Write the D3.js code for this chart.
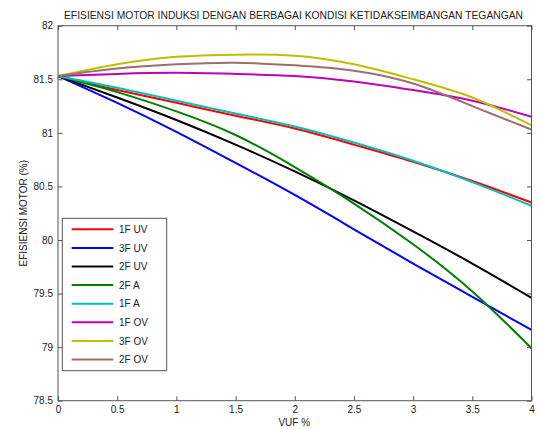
<!DOCTYPE html>
<html>
<head>
<meta charset="utf-8">
<script src="https://cdn.jsdelivr.net/npm/d3@7"></script>
<style>
  html, body { margin: 0; padding: 0; background: #fff; }
  svg { display: block; }
  text { font-family: Arial, "Liberation Sans", sans-serif; fill: #222; }
</style>
</head>
<body>
<svg id="chart" width="541" height="429"></svg>
<script>
// ---- data ----
const vuf = [0, 0.5, 1, 1.5, 2, 2.5, 3, 3.5, 4];
const seriesNames = ["1F UV", "3F UV", "2F UV", "2F A", "1F A", "1F OV", "3F OV", "2F OV"];
const uv1F = [81.53, 81.40, 81.28, 81.16, 81.04, 80.89, 80.73, 80.55, 80.35];
const uv3F = [81.53, 81.28, 81.01, 80.72, 80.42, 80.10, 79.78, 79.47, 79.16];
const uv2F = [81.53, 81.33, 81.12, 80.89, 80.64, 80.37, 80.08, 79.78, 79.46];
const a2F  = [81.53, 81.38, 81.20, 80.98, 80.68, 80.34, 79.96, 79.52, 78.99];
const a1F  = [81.53, 81.42, 81.30, 81.18, 81.06, 80.91, 80.74, 80.54, 80.32];
const ov1F = [81.53, 81.55, 81.56, 81.55, 81.53, 81.48, 81.40, 81.30, 81.15];
const ov3F = [81.53, 81.64, 81.71, 81.73, 81.72, 81.64, 81.50, 81.33, 81.07];
const ov2F = [81.53, 81.60, 81.64, 81.655, 81.63, 81.58, 81.46, 81.25, 81.03];
const seriesValues = [uv1F, uv3F, uv2F, a2F, a1F, ov1F, ov3F, ov2F];
const seriesColors = ["#ff0000", "#0000ff", "#000000", "#008000", "#00bfbf", "#bf00bf", "#bfbf00", "#9e6e6a"];
const xTicks = [0, 0.5, 1, 1.5, 2, 2.5, 3, 3.5, 4];
const yTicks = [78.5, 79, 79.5, 80, 80.5, 81, 81.5, 82];
const titleText = "EFISIENSI MOTOR INDUKSI DENGAN BERBAGAI KONDISI KETIDAKSEIMBANGAN TEGANGAN";
const xLabel = "VUF %";
const yLabel = "EFISIENSI MOTOR (%)";

// ---- layout ----
const L = 58, R = 531.5, T = 25.7, B = 400.7;
const svg = d3.select("#chart");
const x = d3.scaleLinear().domain([0, 4]).range([L, R]);
const y = d3.scaleLinear().domain([78.5, 82]).range([B, T]);
const axisColor = "#555";
const tickLen = 4.5;
const fs = "10px";

// curves
const line = d3.line().x(d => x(d[0])).y(d => y(d[1])).curve(d3.curveNatural);
seriesValues.forEach((vals, i) => {
  svg.append("path")
    .datum(vuf.map((v, j) => [v, vals[j]]))
    .attr("d", line)
    .attr("fill", "none")
    .attr("stroke", seriesColors[i])
    .attr("stroke-width", 2);
});

// axes
function styleAxis(g) {
  g.select(".domain").remove();
  g.selectAll(".tick line").attr("stroke", axisColor).attr("stroke-width", 1);
  g.selectAll(".tick text").style("font-size", fs).attr("fill", "#222");
}
const gx = svg.append("g").attr("transform", `translate(0,${B})`)
  .call(d3.axisBottom(x).tickValues(xTicks).tickFormat(d3.format("")).tickSizeInner(-tickLen).tickSizeOuter(0).tickPadding(5));
styleAxis(gx);
const gxt = svg.append("g").attr("transform", `translate(0,${T})`)
  .call(d3.axisTop(x).tickValues(xTicks).tickFormat("").tickSizeInner(-tickLen).tickSizeOuter(0));
styleAxis(gxt);
const gy = svg.append("g").attr("transform", `translate(${L},0)`)
  .call(d3.axisLeft(y).tickValues(yTicks).tickFormat(d3.format("")).tickSizeInner(-tickLen).tickSizeOuter(0).tickPadding(5));
styleAxis(gy);
const gyr = svg.append("g").attr("transform", `translate(${R},0)`)
  .call(d3.axisRight(y).tickValues(yTicks).tickFormat("").tickSizeInner(-tickLen).tickSizeOuter(0));
styleAxis(gyr);

svg.append("rect").attr("x", L).attr("y", T).attr("width", R - L).attr("height", B - T)
  .attr("fill", "none").attr("stroke", axisColor).attr("stroke-width", 1);

// title & labels
svg.append("text").attr("x", 293.5).attr("y", 18.8).attr("text-anchor", "middle")
  .style("font-size", "10.5px").attr("textLength", 459).attr("lengthAdjust", "spacingAndGlyphs")
  .text(titleText);
svg.append("text").attr("x", 294.3).attr("y", 426).attr("text-anchor", "middle")
  .style("font-size", fs).text(xLabel);
svg.append("text").attr("transform", `translate(27,${(T + B) / 2}) rotate(-90)`)
  .attr("text-anchor", "middle").style("font-size", fs).text(yLabel);

// legend
const lg = svg.append("g");
lg.append("rect").attr("x", 62.3).attr("y", 218.3).attr("width", 104.4).attr("height", 152.4)
  .attr("fill", "#fff").attr("stroke", axisColor).attr("stroke-width", 1);
seriesNames.forEach((name, i) => {
  const yy = 229.3 + i * 18.6;
  lg.append("line").attr("x1", 71.7).attr("x2", 113.3).attr("y1", yy).attr("y2", yy)
    .attr("stroke", seriesColors[i]).attr("stroke-width", 2);
  lg.append("text").attr("x", 119).attr("y", yy + 3.6).style("font-size", fs).text(name);
});
</script>
</body>
</html>
